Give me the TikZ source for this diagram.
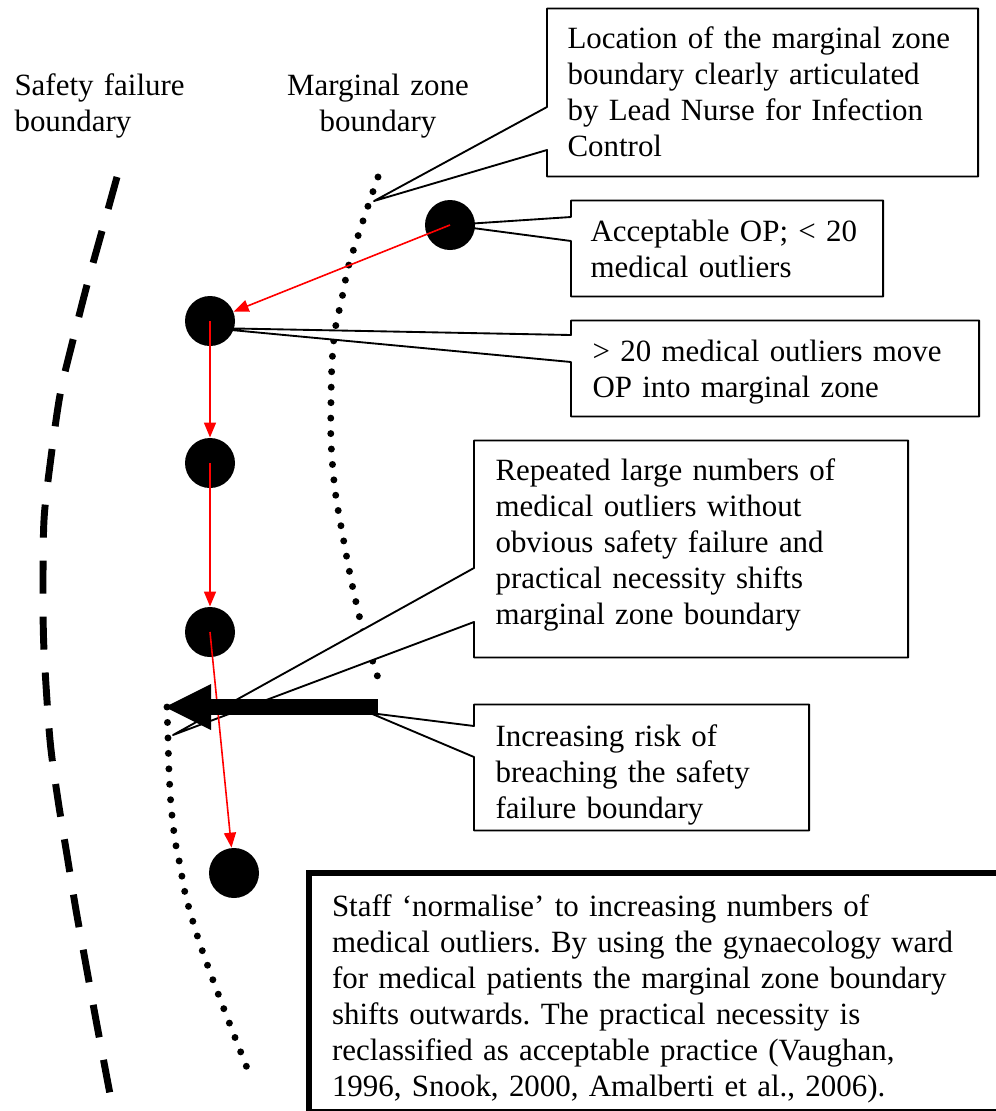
\documentclass[tikz,border=0pt]{standalone}
\usepackage{fontspec}
\setmainfont{Liberation Serif}
\usetikzlibrary{arrows.meta,backgrounds}

\newlength\px
\setlength\px{0.375pt}

\begin{document}
\frenchspacing
\begin{tikzpicture}[x=0.375pt, y=-0.375pt,
		font=\fontsize{11.6}{13.5}\selectfont,
		lbl/.style={inner sep=0pt},
		note/.style={anchor=base west, align=left, inner ysep=0pt, inner xsep=21\px},
		noteline/.style={draw, fill=white, line width=0.7pt, line join=round},
		op/.style={circle, fill=black, minimum size=50\px, inner sep=0pt},
		move/.style={red, line width=0.6pt, -{Triangle[length=5.6pt,width=4.5pt]}},
		failuredash/.style={line width=2.6pt, dash pattern=on 12.4pt off 8.6pt},
		zonedots/.style={line width=2.6pt, line cap=round, dash pattern=on 0pt off 5.8pt}]
		
		\useasboundingbox (0,0) rectangle (996,1111);
		
		% Boundary labels
		\node[lbl, anchor=base west, text width=200\px, align=left] (sfblabel) at (14,95) {Safety failure\\boundary};
		\node[lbl, anchor=base, text width=230\px, align=center] (mzblabel) at (378,95) {Marginal zone\\boundary};
		
		% Text boxes
		\node[note, inner xsep=20\px, text width=390\px, text height=39\px, text depth=128\px] (loc) at (547,48)
			{Location of the marginal zone\\boundary clearly articulated\\by Lead Nurse for Infection\\Control};
		\node[note, inner xsep=19\px, text width=273\px, text height=40\px, text depth=55\px] (ok) at (571,241)
			{Acceptable OP; < 20\\medical outliers};
		\node[note, text width=365\px, text height=40\px, text depth=55\px] (over) at (571,361)
			{> 20 medical outliers move\\OP into marginal zone};
		\node[note, text width=391\px, text height=39\px, text depth=177\px] (repeat) at (474,480)
			{Repeated large numbers of\\medical outliers without\\obvious safety failure and\\practical necessity shifts\\marginal zone boundary};
		\node[note, text width=292\px, text height=41\px, text depth=84\px] (risk) at (474,746)
			{Increasing risk of\\breaching the safety\\failure boundary};
		\node[note, draw, fill=white, line width=2.25pt, inner xsep=23\px, text width=660\px, text height=43\px, text depth=196\px] (norm) at (306,916)
			{Staff ‘normalise’ to increasing numbers of\\medical outliers. By using the gynaecology ward\\for medical patients the marginal zone boundary\\shifts outwards. The practical necessity is\\reclassified as acceptable practice (Vaughan,\\1996, Snook, 2000, Amalberti et al., 2006).};
		
		% Operating points
		\node[op] (op1) at (450,225) {};
		\node[op] (op2) at (210,321) {};
		\node[op] (op3) at (210,463) {};
		\node[op] (op4) at (210,632) {};
		\node[op] (op5) at (234,873) {};
		
		% Callout tips
		\coordinate (locpt) at (374,201);
		\coordinate (overpt) at (210,328);
		\coordinate (repeatpt) at (173,735);
		\coordinate (riskpt) at (370,713);
		
		\begin{scope}[on background layer]
			% Safety failure boundary
			\draw[failuredash] plot[smooth] coordinates {(117,177) (102,231) (87,285) (73,340) (60,395) (50,465) (44,520) (43,590) (44,650) (50,740) (58,800) (67,855) (76,910) (86,965) (96,1020) (110,1094)};
			
			% Marginal zone boundary, before and after the shift
			\draw[zonedots] plot[smooth] coordinates {(378,177) (368,206) (358,236) (348,268) (342,298) (335,330) (332,363) (331,400) (331,442) (335,490) (343,537) (352,584) (363,631) (373,662) (378,678)};
			\draw[zonedots] plot[smooth] coordinates {(167,707) (168,739) (169,771) (171,805) (175,840) (180,865) (186,897) (200,944) (222,1004) (251,1078)};
			
			% Callout outlines
			\draw[noteline] (loc.north west) -- (loc.west |- 0,107) -- (locpt) -- (loc.west |- 0,150) -- (loc.south west) -- (loc.south east) -- (loc.north east) -- cycle;
			\draw[noteline] (ok.north west) -- (ok.west |- 0,217) -- (op1.center) -- (ok.west |- 0,241) -- (ok.south west) -- (ok.south east) -- (ok.north east) -- cycle;
			\draw[noteline] (over.north west) -- (over.west |- 0,335) -- (overpt) -- (over.west |- 0,362) -- (over.south west) -- (over.south east) -- (over.north east) -- cycle;
			\draw[noteline] (repeat.north west) -- (repeat.west |- 0,568) -- (repeatpt) -- (repeat.west |- 0,622) -- (repeat.south west) -- (repeat.south east) -- (repeat.north east) -- cycle;
			\draw[noteline] (risk.north west) -- (risk.west |- 0,726) -- (riskpt) -- (risk.west |- 0,757) -- (risk.south west) -- (risk.south east) -- (risk.north east) -- cycle;
		\end{scope}
		
		% Movement of the operating point
		\draw[move] (op1.center) -- (op2);
		\draw[move] (op2.center) -- (op3);
		\draw[move] (op3.center) -- (op4);
		\draw[move] (op4.center) -- (op5);
		
		% Shift of the marginal zone boundary
		\coordinate (shiftstart) at (378,707);
		\coordinate (shiftend) at (165,707);
		\draw[line width=6pt, -{Triangle[length=17.25pt,width=17.25pt,line width=0pt]}] (shiftstart) -- (shiftend);
		
	\end{tikzpicture}
\end{document}
